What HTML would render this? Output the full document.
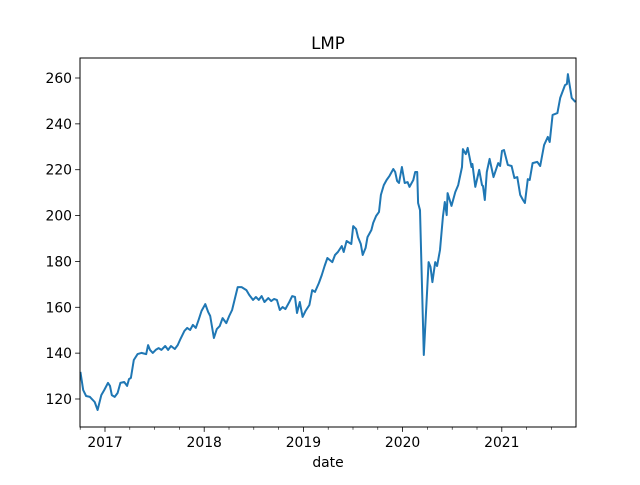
<!DOCTYPE html>
<html><head><meta charset="utf-8"><style>
body{margin:0;background:#fff;}
svg text{font-family:"DejaVu Sans","Liberation Sans",sans-serif;fill:#000;}
</style></head><body>
<svg id="chart" width="640" height="480" viewBox="0 0 640 480" xmlns="http://www.w3.org/2000/svg">
<rect width="640" height="480" fill="#fff"/>
<text x="328" y="49" font-size="16.7" text-anchor="middle">LMP</text>
<text x="328" y="467" font-size="13.9" text-anchor="middle">date</text>
<g id="ticks"></g>
<path id="line" fill="none" stroke="#1f77b4" stroke-width="2" stroke-linejoin="round"/>
<rect x="80" y="58" width="496" height="369" fill="none" stroke="#000" stroke-width="1"/>
</svg>
<script>
const years = [2016.752,2016.780,2016.809,2016.848,2016.896,2016.925,2016.963,2016.992,2017.030,2017.050,2017.069,2017.098,2017.127,2017.155,2017.194,2017.223,2017.242,2017.261,2017.290,2017.329,2017.367,2017.415,2017.434,2017.454,2017.482,2017.511,2017.540,2017.569,2017.607,2017.636,2017.665,2017.704,2017.733,2017.761,2017.800,2017.829,2017.858,2017.886,2017.915,2017.944,2017.973,2018.011,2018.040,2018.060,2018.098,2018.127,2018.156,2018.185,2018.223,2018.252,2018.281,2018.310,2018.338,2018.377,2018.425,2018.454,2018.492,2018.521,2018.550,2018.579,2018.608,2018.646,2018.675,2018.704,2018.733,2018.762,2018.790,2018.819,2018.858,2018.887,2018.915,2018.935,2018.964,2018.992,2019.021,2019.060,2019.089,2019.117,2019.156,2019.185,2019.214,2019.242,2019.291,2019.319,2019.348,2019.387,2019.406,2019.435,2019.483,2019.502,2019.531,2019.550,2019.579,2019.598,2019.627,2019.646,2019.685,2019.704,2019.733,2019.762,2019.781,2019.810,2019.839,2019.868,2019.906,2019.925,2019.945,2019.964,2019.993,2020.021,2020.050,2020.070,2020.108,2020.127,2020.147,2020.156,2020.175,2020.214,2020.262,2020.281,2020.300,2020.329,2020.348,2020.377,2020.406,2020.425,2020.445,2020.454,2020.493,2020.531,2020.560,2020.599,2020.608,2020.637,2020.656,2020.695,2020.704,2020.733,2020.772,2020.800,2020.810,2020.829,2020.849,2020.877,2020.916,2020.964,2020.983,2021.002,2021.022,2021.060,2021.099,2021.127,2021.156,2021.185,2021.214,2021.233,2021.262,2021.281,2021.310,2021.358,2021.387,2021.426,2021.464,2021.483,2021.512,2021.560,2021.589,2021.637,2021.656,2021.666,2021.705,2021.743];
const values = [131.8,123.9,121.3,120.9,118.7,115.2,121.7,123.9,127.0,125.7,121.7,120.9,122.6,127.0,127.4,125.7,128.7,129.2,137.0,139.6,140.1,139.6,143.5,141.4,140.1,141.4,142.2,141.4,143.1,141.4,143.1,141.8,143.5,146.2,149.7,151.0,150.1,152.3,151.0,154.5,158.4,161.4,157.9,156.2,146.6,150.5,151.8,155.3,153.1,156.2,158.8,164.0,168.8,168.8,167.5,165.4,163.2,164.5,163.2,164.9,162.3,164.0,162.7,163.6,163.2,158.8,160.1,159.2,162.3,164.9,164.5,157.5,162.3,155.8,158.4,161.0,167.5,166.7,170.6,174.1,178.0,181.5,179.7,182.8,184.1,186.7,184.1,188.9,187.6,195.4,194.1,190.6,187.6,182.8,185.9,190.6,193.7,196.8,199.8,201.6,209.0,213.3,215.5,217.3,220.3,219.0,215.1,214.2,221.2,214.2,214.6,212.5,215.5,219.0,219.0,205.5,202.4,139.2,179.7,177.6,171.0,179.7,178.0,185.0,199.4,205.9,200.2,209.8,204.2,210.3,213.3,221.2,229.0,226.8,229.5,221.2,222.5,212.5,219.9,213.3,212.9,206.8,219.0,224.7,216.8,222.9,221.6,228.2,228.6,222.1,221.6,216.4,216.8,209.0,206.8,205.5,215.9,215.5,222.9,223.4,221.6,230.8,234.3,232.1,243.9,244.7,251.3,256.9,257.4,261.7,251.3,249.5];
const yTicks = [120,140,160,180,200,220,240,260];
const xTicks = [2017,2018,2019,2020,2021];
const xMin = 2016.748, xMax = 2021.748;
const X = y => 80 + (y - xMin) / (xMax - xMin) * 496;
const Y = v => 399 - (v - 120) * (321 / 140);
const NS = "http://www.w3.org/2000/svg";
const g = document.getElementById('ticks');
function mk(tag, attrs){const e=document.createElementNS(NS,tag);for(const k in attrs)e.setAttribute(k,attrs[k]);return e;}
yTicks.forEach(v=>{
  const t=mk('line',{x1:80,x2:75.1,y1:Y(v),y2:Y(v),stroke:'#000','stroke-width':0.8});
  
  
  g.appendChild(t);
  const l=mk('text',{x:72,y:Y(v)+5,'font-size':13.9,'text-anchor':'end'});
  l.textContent=v;
  
  
  g.appendChild(l);
});
for(let q=2016.75;q<=xMax+0.001;q+=0.25){
  if(Math.abs(q-Math.round(q))<0.01) continue;
  const t=mk('line',{x1:X(q),x2:X(q),y1:427,y2:429.8,stroke:'#000','stroke-width':0.6});
  
  
  g.appendChild(t);
}
xTicks.forEach(v=>{
  const t=mk('line',{x1:X(v),x2:X(v),y1:427,y2:431.9,stroke:'#000','stroke-width':0.8});
  
  
  g.appendChild(t);
  const l=mk('text',{x:X(v),y:447,'font-size':13.9,'text-anchor':'middle'});
  l.textContent=v;
  
  
  g.appendChild(l);
});
document.getElementById('line').setAttribute('d', years.map((yr,i)=>(i?'L':'M')+X(yr).toFixed(1)+','+Y(values[i]).toFixed(1)).join(''));
</script>
</body></html>
